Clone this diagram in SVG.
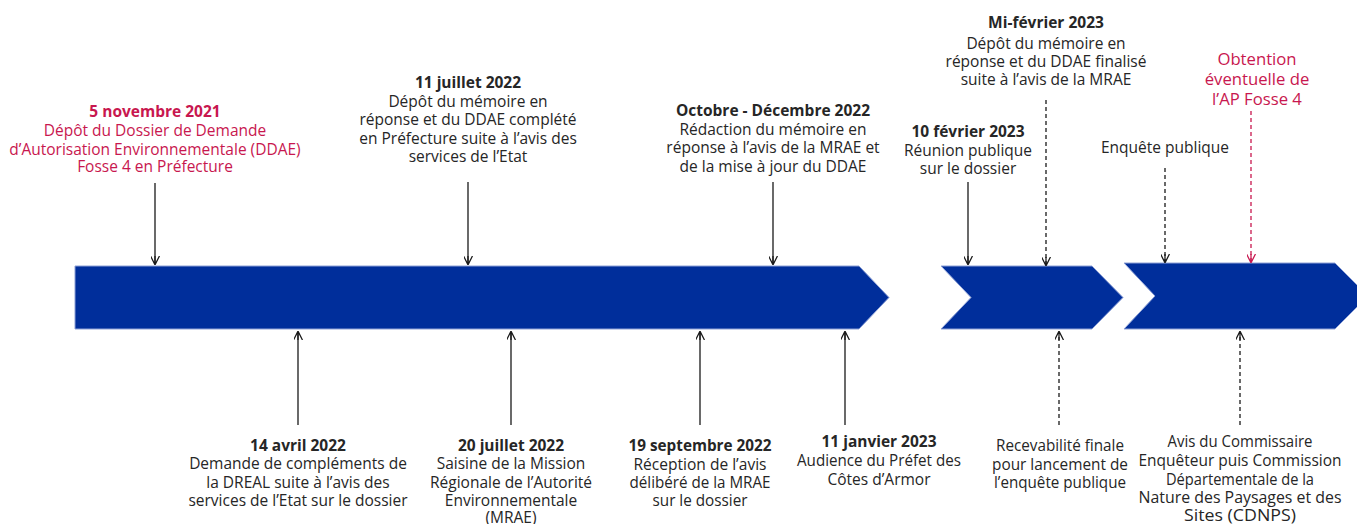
<svg xmlns="http://www.w3.org/2000/svg" width="1357" height="524" viewBox="0 0 1357 524">
<style>
text{font-family:"Open Sans","Noto Sans","Liberation Sans",sans-serif;font-size:15.5px;fill:#262626;text-anchor:middle}
.b{font-weight:bold}
.p{fill:#c8174f}
.bar{fill:#002e9b;stroke:#8da0d6;stroke-width:1}
.ln{stroke:#1a1a1a;stroke-width:1.3;fill:none}
.d{stroke-dasharray:4 3}
.pk{stroke:#c8174f}
</style>
<defs>
<marker id="ah" viewBox="0 0 10 10" refX="9" refY="5" markerWidth="9" markerHeight="9" markerUnits="userSpaceOnUse" orient="auto">
<path d="M0,0 L10,5 L0,10 M10,5 L0,5" fill="none" stroke="#1a1a1a" stroke-width="1.4"/>
</marker>
<marker id="ahp" viewBox="0 0 10 10" refX="9" refY="5" markerWidth="9" markerHeight="9" markerUnits="userSpaceOnUse" orient="auto">
<path d="M0,0 L10,5 L0,10 M10,5 L0,5" fill="none" stroke="#c8174f" stroke-width="1.4"/>
</marker>
</defs>
<g id="bars">
<polygon class="bar" points="75,266 859,266 889,297.5 859,329 75,329"/>
<polygon class="bar" points="941,266 1092,266 1123,297.5 1092,329 941,329 971,297.5"/>
<polygon class="bar" points="1124,263 1335,263 1368,296 1335,329 1124,329 1155,296"/>
</g>
<g id="connectors">
<line class="ln" x1="155" y1="183" x2="155" y2="264" marker-end="url(#ah)"/>
<line class="ln" x1="468" y1="182" x2="468" y2="264" marker-end="url(#ah)"/>
<line class="ln" x1="773" y1="182" x2="773" y2="264" marker-end="url(#ah)"/>
<line class="ln" x1="968" y1="182" x2="968" y2="264" marker-end="url(#ah)"/>
<line class="ln d" x1="1046" y1="100" x2="1046" y2="265" marker-end="url(#ah)"/>
<line class="ln d" x1="1165" y1="168" x2="1165" y2="262" marker-end="url(#ah)"/>
<line class="ln d pk" x1="1251" y1="111" x2="1251" y2="262" marker-end="url(#ahp)"/>
<line class="ln" x1="298" y1="425" x2="298" y2="332" marker-end="url(#ah)"/>
<line class="ln" x1="511" y1="425" x2="511" y2="332" marker-end="url(#ah)"/>
<line class="ln" x1="700" y1="425" x2="700" y2="332" marker-end="url(#ah)"/>
<line class="ln" x1="845" y1="425" x2="845" y2="332" marker-end="url(#ah)"/>
<line class="ln d" x1="1059" y1="425" x2="1059" y2="332" marker-end="url(#ah)"/>
<line class="ln d" x1="1240" y1="425" x2="1240" y2="332" marker-end="url(#ah)"/>
</g>
<g id="n-nov2021">
<text class="b p" x="155" y="117">5 novembre 2021</text>
<text class="p" x="155" y="136">Dépôt du Dossier de Demande</text>
<text class="p" x="155" y="155">d’Autorisation Environnementale (DDAE)</text>
<text class="p" x="155" y="172">Fosse 4 en Préfecture</text>
</g>
<g id="n-jul2022">
<text class="b" x="468" y="88">11 juillet 2022</text>
<text x="468" y="107">Dépôt du mémoire en</text>
<text x="468" y="125">réponse et du DDAE complété</text>
<text x="468" y="144">en Préfecture suite à l’avis des</text>
<text x="468" y="162">services de l’Etat</text>
</g>
<g id="n-octdec2022">
<text class="b" x="773" y="116">Octobre - Décembre 2022</text>
<text x="773" y="135">Rédaction du mémoire en</text>
<text x="773" y="153">réponse à l’avis de la MRAE et</text>
<text x="773" y="172">de la mise à jour du DDAE</text>
</g>
<g id="n-mifev2023">
<text class="b" x="1046" y="28">Mi-février 2023</text>
<text x="1046" y="49">Dépôt du mémoire en</text>
<text x="1046" y="67">réponse et du DDAE finalisé</text>
<text x="1046" y="85">suite à l’avis de la MRAE</text>
</g>
<g id="n-10fev2023">
<text class="b" x="968" y="137">10 février 2023</text>
<text x="968" y="156">Réunion publique</text>
<text x="968" y="174">sur le dossier</text>
</g>
<g id="n-enquete">
<text x="1165" y="153">Enquête publique</text>
</g>
<g id="n-obtention">
<text class="p" x="1257" y="65" style="font-size:16.7px">Obtention</text>
<text class="p" x="1257" y="85" style="font-size:16.7px">éventuelle de</text>
<text class="p" x="1257" y="105" style="font-size:16.7px">l’AP Fosse 4</text>
</g>
<g id="n-avr2022">
<text class="b" x="298" y="451">14 avril 2022</text>
<text x="298" y="469">Demande de compléments de</text>
<text x="298" y="488">la DREAL  suite à l’avis des</text>
<text x="298" y="506">services de l’Etat sur le dossier</text>
</g>
<g id="n-20jul2022">
<text class="b" x="511" y="451">20 juillet 2022</text>
<text x="511" y="469">Saisine de la Mission</text>
<text x="511" y="488">Régionale de l’Autorité</text>
<text x="511" y="506">Environnementale</text>
<text x="511" y="523">(MRAE)</text>
</g>
<g id="n-sep2022">
<text class="b" x="700" y="451" textLength="143" lengthAdjust="spacingAndGlyphs">19 septembre 2022</text>
<text x="700" y="470" textLength="133" lengthAdjust="spacingAndGlyphs">Réception de l’avis</text>
<text x="700" y="488" textLength="141" lengthAdjust="spacingAndGlyphs">délibéré de la MRAE</text>
<text x="700" y="506" textLength="95" lengthAdjust="spacingAndGlyphs">sur le dossier</text>
</g>
<g id="n-jan2023">
<text class="b" x="879" y="447" textLength="115" lengthAdjust="spacingAndGlyphs">11 janvier 2023</text>
<text x="879" y="466" textLength="164" lengthAdjust="spacingAndGlyphs">Audience du Préfet des</text>
<text x="879" y="485" textLength="103" lengthAdjust="spacingAndGlyphs">Côtes d’Armor</text>
</g>
<g id="n-recevabilite">
<text x="1060" y="451" textLength="128" lengthAdjust="spacingAndGlyphs">Recevabilité finale</text>
<text x="1060" y="470" textLength="136" lengthAdjust="spacingAndGlyphs">pour lancement de</text>
<text x="1060" y="488" textLength="132" lengthAdjust="spacingAndGlyphs">l’enquête publique</text>
</g>
<g id="n-avis">
<text x="1240" y="447" textLength="145" lengthAdjust="spacingAndGlyphs">Avis du Commissaire</text>
<text x="1240" y="466" textLength="203" lengthAdjust="spacingAndGlyphs">Enquêteur puis Commission</text>
<text x="1240" y="485" textLength="148" lengthAdjust="spacingAndGlyphs">Départementale de la</text>
<text x="1240" y="503" textLength="203" lengthAdjust="spacingAndGlyphs">Nature des Paysages et des</text>
<text x="1240" y="521" textLength="112" lengthAdjust="spacingAndGlyphs">Sites (CDNPS)</text>
</g>
</svg>
